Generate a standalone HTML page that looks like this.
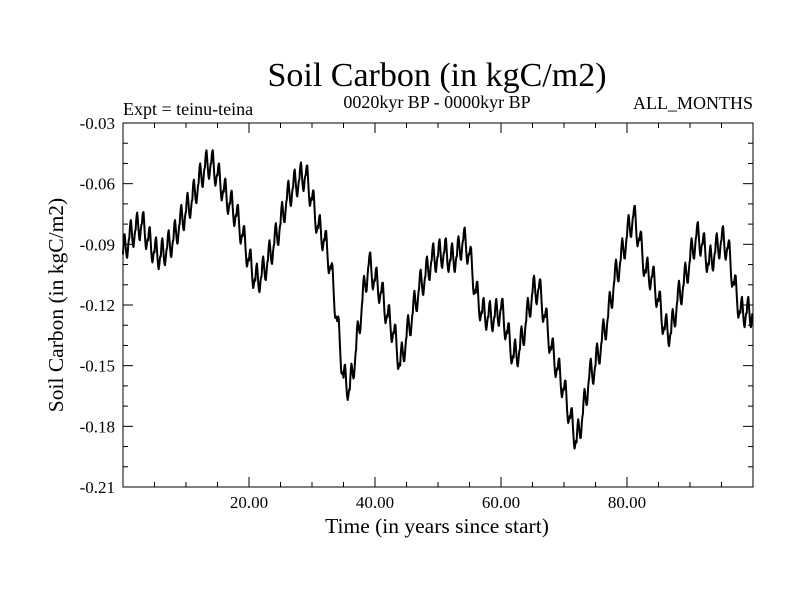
<!DOCTYPE html>
<html><head><meta charset="utf-8"><style>
body{margin:0;background:#fff}
svg text{font-family:"Liberation Serif",serif;fill:#000}
</style></head><body>
<svg id="chart" width="800" height="600">
<rect width="800" height="600" fill="#fff"/>
<text x="437" y="86" font-size="34" text-anchor="middle">Soil Carbon (in kgC/m2)</text>
<text x="437" y="108" font-size="18" text-anchor="middle">0020kyr BP - 0000kyr BP</text>
<text x="123" y="115" font-size="18">Expt = teinu-teina</text>
<text x="753" y="109" font-size="18" text-anchor="end">ALL_MONTHS</text>
<text x="437" y="533" font-size="21.5" text-anchor="middle">Time (in years since start)</text>
<text transform="translate(63,305) rotate(-90)" font-size="21.5" text-anchor="middle">Soil Carbon (in kgC/m2)</text>
<g id="axes"></g>
<path id="series" fill="none" stroke="#000" stroke-width="2" stroke-linejoin="round"/>
<rect x="123" y="123" width="630" height="364" fill="none" stroke="#000" stroke-width="1"/>
</svg>
<script>
const annualMean=[-0.095,-0.087,-0.083,-0.080,-0.088,-0.094,-0.096,-0.092,-0.088,-0.080,-0.074,-0.068,-0.060,-0.052,-0.050,-0.056,-0.064,-0.070,-0.076,-0.086,-0.098,-0.108,-0.106,-0.098,-0.090,-0.080,-0.068,-0.062,-0.058,-0.056,-0.068,-0.082,-0.088,-0.102,-0.128,-0.156,-0.162,-0.142,-0.118,-0.100,-0.108,-0.114,-0.126,-0.134,-0.150,-0.136,-0.124,-0.112,-0.106,-0.098,-0.096,-0.094,-0.098,-0.096,-0.088,-0.095,-0.114,-0.124,-0.126,-0.126,-0.122,-0.134,-0.146,-0.142,-0.128,-0.114,-0.112,-0.126,-0.142,-0.152,-0.162,-0.176,-0.188,-0.174,-0.156,-0.150,-0.138,-0.126,-0.108,-0.098,-0.086,-0.076,-0.088,-0.104,-0.106,-0.118,-0.132,-0.134,-0.118,-0.110,-0.098,-0.086,-0.090,-0.100,-0.094,-0.088,-0.092,-0.110,-0.124,-0.124];
const seasonal=[0.000,0.004,0.007,0.008,0.005,0.001,-0.003,-0.006,-0.007,-0.005,-0.002,0.000];
const yTicks=[-0.03,-0.06,-0.09,-0.12,-0.15,-0.18,-0.21];
const xTicks=[20,40,60,80];
const X0=123,X1=753,Y0=123,Y1=487,XMIN=0,XMAX=100,YMIN=-0.21,YMAX=-0.03;
const sx=v=>X0+(v-XMIN)/(XMAX-XMIN)*(X1-X0);
const sy=v=>Y1-(v-YMIN)/(YMAX-YMIN)*(Y1-Y0);
const ns="http://www.w3.org/2000/svg";
const ax=document.getElementById('axes');
function line(x1,y1,x2,y2,name){const l=document.createElementNS(ns,'line');l.setAttribute('x1',x1);l.setAttribute('y1',y1);l.setAttribute('x2',x2);l.setAttribute('y2',y2);l.setAttribute('stroke','#000');


ax.appendChild(l);}
function txt(x,y,s,anchor,name){const t=document.createElementNS(ns,'text');t.setAttribute('x',x);t.setAttribute('y',y);t.setAttribute('font-size','17');t.setAttribute('text-anchor',anchor);t.textContent=s;


ax.appendChild(t);}
for(let i=0;i<=18;i++){const v=YMIN+i*0.01;const y=sy(v);const major=i%3===0;const L=major?10:5;
line(X0,y,X0+L,y,'y-tick');line(X1,y,X1-L,y,'y-tick-right');}
yTicks.forEach(v=>txt(X0-8,sy(v)+6,v.toFixed(2),'end','y-tick-label'));
for(let v=5;v<100;v+=5){const x=sx(v);const L=v%20===0?10:5;line(x,Y1,x,Y1-L,'x-tick');line(x,Y0,x,Y0+L,'x-tick-top');}
xTicks.forEach(v=>txt(sx(v),sy(YMIN)+21,v.toFixed(2),'middle','x-tick-label'));
let d='';const n=annualMean.length;
for(let i=0;i<n*12;i++){const t=i/12;const yr=Math.floor(t);const f=t-yr;
const a=annualMean[yr],b=annualMean[Math.min(yr+1,n-1)];
const v=a+(b-a)*f+seasonal[i%12];
d+=(i?'L':'M')+sx(t).toFixed(1)+','+sy(v).toFixed(1);}
document.getElementById('series').setAttribute('d',d);
</script>
</body></html>
